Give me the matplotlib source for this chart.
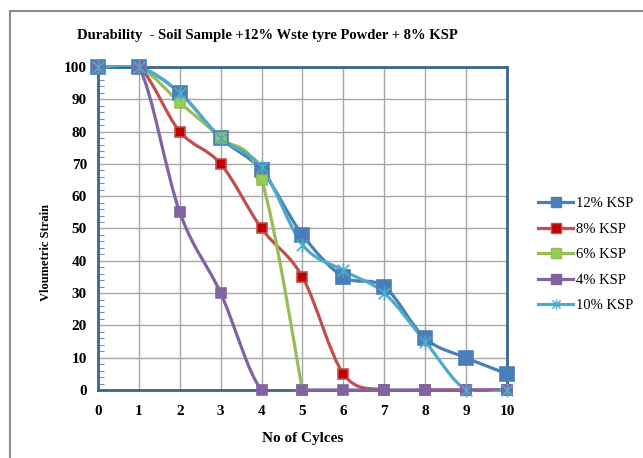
import matplotlib.pyplot as plt
import numpy as np
from matplotlib.path import Path
from matplotlib.patches import PathPatch, Rectangle
from matplotlib.lines import Line2D
from matplotlib.ticker import MultipleLocator

plt.rcParams['font.family'] = ['Liberation Serif', 'DejaVu Serif']

cycles = [0, 1, 2, 3, 4, 5, 6, 7, 8, 9, 10]
ksp12 = [100, 100, 92, 78, 68, 48, 35, 32, 16, 10, 5]
ksp8 = [100, 100, 80, 70, 50, 35, 5, 0, 0, 0, 0]
ksp6 = [100, 100, 89, 78, 65, 0]
ksp4 = [100, 100, 55, 30, 0, 0, 0, 0, 0, 0, 0]
ksp10 = [100, 100, 92, 78, 69, 45, 37, 30, 15, 0, 0]

# asterisk marker like the Excel "star"
star = Path([(-1, -1), (1, 1), (-1, 1), (1, -1), (0, -1.2), (0, 1.2)],
            [Path.MOVETO, Path.LINETO, Path.MOVETO, Path.LINETO, Path.MOVETO, Path.LINETO])

series = [
    # label, values, line colour, marker, marker size, face, edge
    ('12% KSP', ksp12, '#4A7EBB', 's', 10, '#4A7EBB', '#4A7EBB'),
    ('8% KSP', ksp8, '#C0504D', 's', 6.5, '#C00000', '#C0504D'),
    ('6% KSP', ksp6, '#9BBB59', 's', 6.5, '#92D050', '#9BBB59'),
    ('4% KSP', ksp4, '#8064A2', 's', 7, '#8064A2', '#8064A2'),
    ('10% KSP', ksp10, '#4BACC6', star, 10, '#4BACC6', '#4BACC6'),
]


def smooth_path(xs, ys):
    # Excel-like smoothed line: cubic bezier segments through every point
    pts = np.column_stack([xs, ys]).astype(float)
    n = len(pts)
    verts = [pts[0]]
    codes = [Path.MOVETO]
    for i in range(n - 1):
        p0 = pts[i - 1] if i > 0 else pts[i]
        p1 = pts[i]
        p2 = pts[i + 1]
        p3 = pts[i + 2] if i + 2 < n else pts[i + 1]
        verts += [p1 + (p2 - p0) / 6, p2 - (p3 - p1) / 6, p2]
        codes += [Path.CURVE4] * 3
    return Path(verts, codes)


fig = plt.figure(figsize=(6.43, 4.58), dpi=100)
ax = fig.add_axes([0.1524, 0.1485, 0.636, 0.7052])

# plot area clipping (Excel hides the overshoot of the smoothed lines)
clip = Rectangle((-1, -0.5), 12, 101, transform=ax.transData)
for label, vals, color, marker, ms, face, edge in series:
    xs = cycles[:len(vals)]
    patch = PathPatch(smooth_path(xs, vals), facecolor='none', edgecolor=color,
                      lw=2.3, zorder=3, capstyle='round', joinstyle='round')
    ax.add_patch(patch)
    patch.set_clip_path(clip)
    ax.plot(xs, vals, linestyle='none', marker=marker, markersize=ms,
            markerfacecolor=face, markeredgecolor=edge, markeredgewidth=1.2,
            clip_on=False, zorder=4)

ax.set_xlim(0, 10)
ax.set_ylim(0, 100)
ax.set_xticks(range(0, 11))
ax.set_yticks(range(0, 101, 10))
ax.yaxis.set_minor_locator(MultipleLocator(2))
ax.tick_params(axis='both', which='major', length=0, labelsize=11, pad=8)
ax.tick_params(axis='x', which='major', pad=11)
ax.tick_params(axis='y', which='minor', direction='in', length=4, color='#6F8FAF', width=0.8)
for lab in ax.get_xticklabels() + ax.get_yticklabels():
    lab.set_fontweight('bold')
ax.grid(True, color='#A6A6A6', lw=1)
ax.set_axisbelow(True)
for sp in ax.spines.values():
    sp.set_color('#3A6591')
    sp.set_linewidth(2)

ax.set_xlabel('No of Cylces', fontsize=11, fontweight='bold', labelpad=10)
ax.set_ylabel('Vloumetric Strain', fontsize=9, fontweight='bold')
ax.yaxis.set_label_coords(-0.112, 0.427)
fig.text(0.416, 0.922, 'Durability  - Soil Sample +12% Wste tyre Powder + 8% KSP',
         ha='center', va='center', fontsize=10.5, fontweight='bold')

handles = [Line2D([], [], color=c, lw=2.3, marker=m, markersize=min(ms, 7),
                  markerfacecolor=f, markeredgecolor=e)
           for _, _, c, m, ms, f, e in series]
fig.legend(handles, [s[0] for s in series], loc='center left',
           bbox_to_anchor=(0.8165, 0.444), frameon=False, fontsize=10.5,
           handlelength=2.4, labelspacing=0.85, handletextpad=0.2)

fig.add_artist(Rectangle((10 / 643, -0.1), 1.2, 1.1 - 11 / 458, transform=fig.transFigure,
                         fill=False, edgecolor='#8C8C8C', lw=1.5))

fig.savefig('out.png', dpi=100)
